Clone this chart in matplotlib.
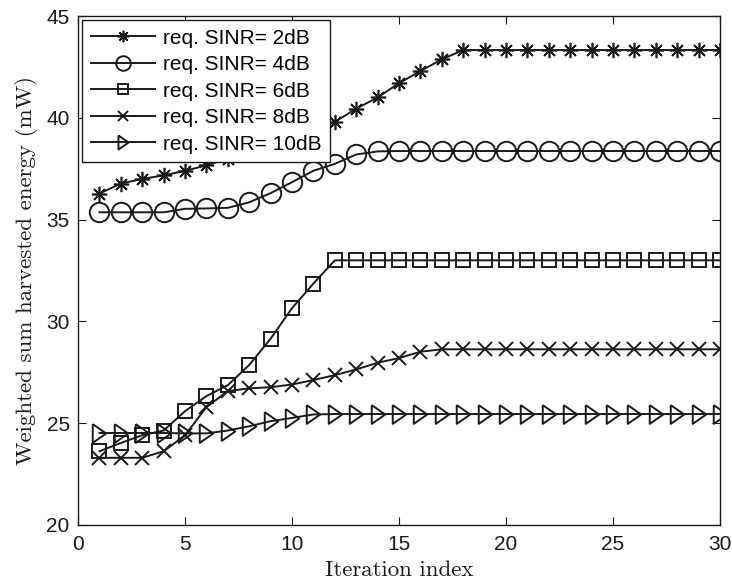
import numpy as np
import matplotlib
matplotlib.use('Agg')
import matplotlib.pyplot as plt

# iteration index
it = list(range(1, 31))

# weighted sum harvested energy (mW) per required SINR
e_2db = [36.28, 36.77, 37.0, 37.17, 37.4, 37.66, 38.0, 38.35, 38.7, 39.05,
         39.4, 39.8, 40.45, 41.0, 41.7, 42.3, 42.87, 43.33, 43.33, 43.33,
         43.33, 43.33, 43.33, 43.33, 43.33, 43.33, 43.33, 43.33, 43.33, 43.33]
e_4db = [35.36, 35.36, 35.36, 35.36, 35.53, 35.55, 35.58, 35.85, 36.3, 36.84,
         37.4, 37.74, 38.2, 38.35, 38.37, 38.37, 38.37, 38.37, 38.37, 38.37,
         38.37, 38.37, 38.37, 38.37, 38.37, 38.37, 38.37, 38.37, 38.37, 38.37]
e_6db = [23.62, 24.03, 24.41, 24.64, 25.59, 26.33, 26.87, 27.86, 29.15, 30.65,
         31.86, 33.0, 33.0, 33.0, 33.0, 33.0, 33.0, 33.0, 33.0, 33.0,
         33.0, 33.0, 33.0, 33.0, 33.0, 33.0, 33.0, 33.0, 33.0, 33.0]
e_8db = [23.3, 23.3, 23.3, 23.62, 24.41, 25.79, 26.58, 26.71, 26.77, 26.9,
         27.12, 27.36, 27.64, 27.97, 28.2, 28.51, 28.63, 28.63, 28.63, 28.63,
         28.63, 28.63, 28.63, 28.63, 28.63, 28.63, 28.63, 28.63, 28.63, 28.63]
e_10db = [24.52, 24.52, 24.52, 24.52, 24.5, 24.5, 24.64, 24.85, 25.1, 25.26,
          25.43, 25.45, 25.45, 25.45, 25.45, 25.45, 25.45, 25.45, 25.45, 25.45,
          25.45, 25.45, 25.45, 25.45, 25.45, 25.45, 25.45, 25.45, 25.45, 25.45]

labels = ['req. SINR= 2dB', 'req. SINR= 4dB', 'req. SINR= 6dB',
          'req. SINR= 8dB', 'req. SINR= 10dB']

plt.rcParams['font.family'] = ['Liberation Sans', 'DejaVu Sans']

fig = plt.figure(figsize=(7.32, 5.83), dpi=100)
ax = fig.add_axes([0.1066, 0.0995, 0.877, 0.873])

c = '#1a1a1a'
tri = [(-0.72, 1.0), (0.72, 0.0), (-0.72, -1.0), (-0.72, 1.0)]
kw = dict(color=c, linewidth=1.4, markerfacecolor='none', markeredgecolor=c)
ax.plot(it, e_2db, marker=(8, 2, 0), markersize=11, markeredgewidth=1.2,
        label=labels[0], **kw)
ax.plot(it, e_4db, marker='o', markersize=14, markeredgewidth=1.4,
        label=labels[1], **kw)
ax.plot(it, e_6db, marker='s', markersize=9.5, markeredgewidth=1.4,
        label=labels[2], **kw)
ax.plot(it, e_8db, marker='x', markersize=10, markeredgewidth=1.4,
        label=labels[3], **kw)
ax.plot(it, e_10db, marker=tri, markersize=13.5, markeredgewidth=1.4,
        label=labels[4], **kw)

ax.set_xlim(0, 30)
ax.set_ylim(20, 45)
ax.set_xticks([0, 5, 10, 15, 20, 25, 30])
ax.set_yticks([20, 25, 30, 35, 40, 45])
ax.tick_params(direction='in', top=True, right=True, length=6, width=0.8,
               labelsize=15, colors=c)
ax.tick_params(axis='x', pad=7)
ax.tick_params(axis='y', pad=6)
for s in ax.spines.values():
    s.set_linewidth(1.0)
    s.set_color(c)

ax.set_xlabel('Iteration index', fontfamily='cmr10', fontsize=16.5, labelpad=5, color=c)
ax.set_ylabel('Weighted sum harvested energy (mW)', fontfamily='cmr10',
              fontsize=16.5, labelpad=6, color=c)

leg = ax.legend(loc='upper left', fontsize=15, handlelength=3.1,
                borderaxespad=0.2, labelspacing=0.36, handletextpad=0.38,
                borderpad=0.4, fancybox=False, framealpha=1, markerscale=0.75)
leg.get_frame().set_edgecolor(c)
leg.get_frame().set_linewidth(1.0)

fig.savefig('out.png', dpi=100)
